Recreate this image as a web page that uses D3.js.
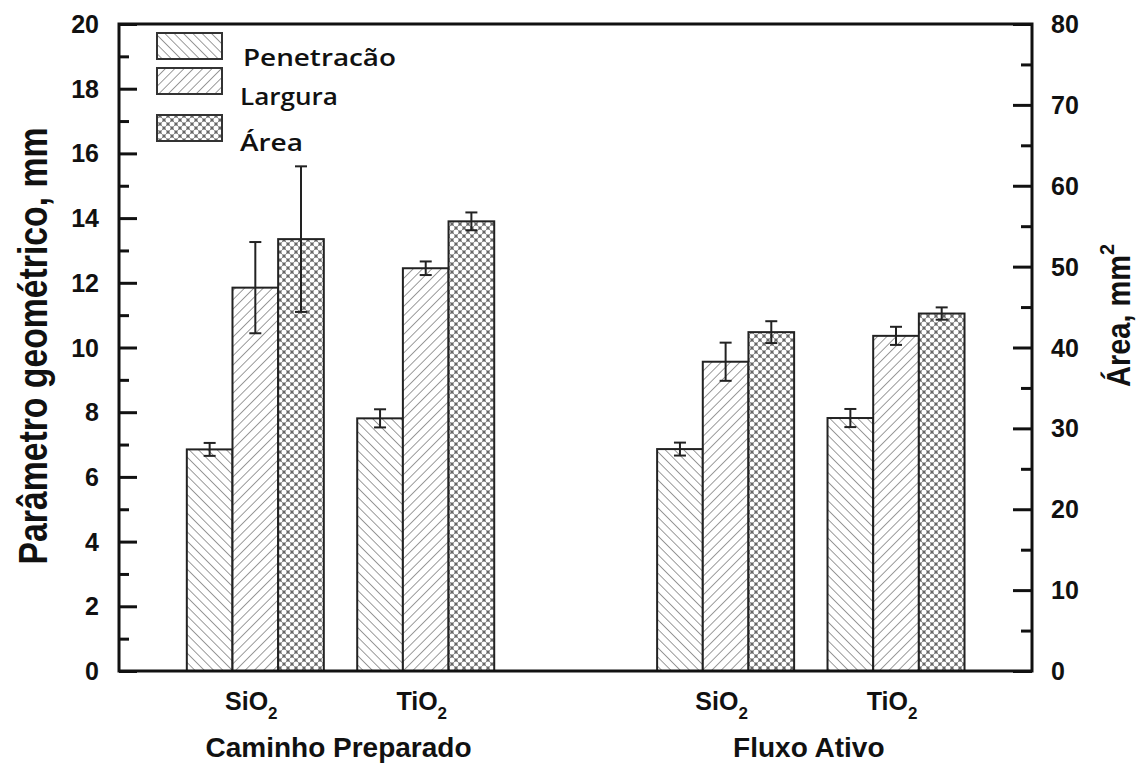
<!DOCTYPE html>
<html>
<head>
<meta charset="utf-8">
<script src="https://cdn.jsdelivr.net/npm/d3@7/dist/d3.min.js"></script>
<style>
  body { margin: 0; background: #fff; }
  svg { display: block; }
  .tick-label { font-family: "Liberation Sans", Arial, sans-serif; font-weight: bold; font-size: 25px; fill: #111; }
  .axis-title { font-family: "Liberation Sans", Arial, sans-serif; font-weight: bold; fill: #111; }
  .legend-label { font-family: "Open Sans", sans-serif; font-weight: 600; font-size: 24px; fill: #111; }
</style>
</head>
<body>
<svg id="chart" width="1138" height="765"></svg>
<script>
// ---------------------------------------------------------------------------
// Data
// ---------------------------------------------------------------------------
const categories = ["Caminho Preparado", "Fluxo Ativo"];
const oxides = ["SiO", "TiO", "SiO", "TiO"];
const groupPos = [0.8, 1.8, 3.56, 4.56];
const groupCategory = [0, 0, 1, 1];

const series = ["Penetracão", "Largura", "Área"];
const penetracao = [6.85, 7.81, 6.86, 7.82];
const penetracaoErr = [0.2, 0.28, 0.2, 0.28];
const largura = [11.85, 12.45, 9.56, 10.36];
const larguraErr = [1.41, 0.21, 0.59, 0.28];
const area = [53.4, 55.6, 41.9, 44.2];        // right axis, mm2
const areaErr = [9.0, 1.1, 1.35, 0.76];

const leftTicks = [0, 2, 4, 6, 8, 10, 12, 14, 16, 18, 20];
const rightTicks = [0, 10, 20, 30, 40, 50, 60, 70, 80];

// ---------------------------------------------------------------------------
// Layout
// ---------------------------------------------------------------------------
const L = 119, R = 1032, T = 24, B = 671;
const svg = d3.select("#chart");

const x = d3.scaleLinear().domain([0, 5.358]).range([L, R]);
const yL = d3.scaleLinear().domain([0, 20]).range([B, T]);
const yR = d3.scaleLinear().domain([0, 80]).range([B, T]);
const inner = d3.scaleBand().domain(series).range([-0.402, 0.402]);

// ---------------------------------------------------------------------------
// Patterns
// ---------------------------------------------------------------------------
const defs = svg.append("defs");

function hatch(id, angle) {
  const p = defs.append("pattern")
    .attr("id", id)
    .attr("patternUnits", "userSpaceOnUse")
    .attr("width", 6.6).attr("height", 6.6)
    .attr("patternTransform", `rotate(${angle})`);
  p.append("rect").attr("width", 6.6).attr("height", 6.6).attr("fill", "#fff");
  p.append("line").attr("x1", 0).attr("y1", 0).attr("x2", 0).attr("y2", 6.6)
    .attr("stroke", "#666").attr("stroke-width", 1.3);
}
hatch("pat-pen", -45);
hatch("pat-lar", 45);

const dots = defs.append("pattern")
  .attr("id", "pat-area")
  .attr("patternUnits", "userSpaceOnUse")
  .attr("width", 8).attr("height", 8);
dots.append("rect").attr("width", 8).attr("height", 8).attr("fill", "#666");
[[0, 0], [8, 0], [0, 8], [8, 8], [4, 4]].forEach(([cx, cy]) => {
  dots.append("circle").attr("cx", cx).attr("cy", cy).attr("r", 2.55).attr("fill", "#fff");
});

const fills = { "Penetracão": "url(#pat-pen)", "Largura": "url(#pat-lar)", "Área": "url(#pat-area)" };

// ---------------------------------------------------------------------------
// Bars
// ---------------------------------------------------------------------------
const rows = [];
groupPos.forEach((p, i) => {
  rows.push({ key: "Penetracão", pos: p, v: penetracao[i], e: penetracaoErr[i], y: yL });
  rows.push({ key: "Largura", pos: p, v: largura[i], e: larguraErr[i], y: yL });
  rows.push({ key: "Área", pos: p, v: area[i], e: areaErr[i], y: yR });
});

const bw = x(inner.bandwidth()) - x(0);

svg.append("g").selectAll("rect")
  .data(rows)
  .join("rect")
  .attr("x", (d) => x(d.pos + inner(d.key)))
  .attr("y", (d) => d.y(d.v))
  .attr("width", bw)
  .attr("height", (d) => B - d.y(d.v))
  .attr("fill", (d) => fills[d.key])
  .attr("stroke", "#222")
  .attr("stroke-width", 2);

// Error bars
const eg = svg.append("g").attr("stroke", "#222").attr("stroke-width", 2);
rows.forEach((d) => {
  const cx = x(d.pos + inner(d.key)) + bw / 2;
  const y1 = d.y(d.v + d.e), y2 = d.y(d.v - d.e);
  eg.append("line").attr("x1", cx).attr("x2", cx).attr("y1", y1).attr("y2", y2);
  eg.append("line").attr("x1", cx - 6).attr("x2", cx + 6).attr("y1", y1).attr("y2", y1);
  eg.append("line").attr("x1", cx - 6).attr("x2", cx + 6).attr("y1", y2).attr("y2", y2);
});

// ---------------------------------------------------------------------------
// Axes
// ---------------------------------------------------------------------------
const leftAxis = d3.axisRight(yL).tickValues(d3.range(0, 21, 1))
  .tickSize(0).tickFormat("");
const gl = svg.append("g").attr("transform", `translate(${L},0)`).call(leftAxis);
gl.select(".domain").remove();
gl.selectAll(".tick line")
  .attr("x2", (d) => (d % 2 === 0 ? 18 : 10))
  .attr("stroke", "#111").attr("stroke-width", 3);

const rightAxis = d3.axisLeft(yR).tickValues(d3.range(0, 81, 5))
  .tickSize(0).tickFormat("");
const gr = svg.append("g").attr("transform", `translate(${R},0)`).call(rightAxis);
gr.select(".domain").remove();
gr.selectAll(".tick line")
  .attr("x2", (d) => (d % 10 === 0 ? -19 : -11))
  .attr("stroke", "#111").attr("stroke-width", 3);

svg.append("g").selectAll("text")
  .data(leftTicks)
  .join("text")
  .attr("class", "tick-label")
  .attr("x", 99)
  .attr("y", (d) => yL(d))
  .attr("dy", "0.36em")
  .attr("text-anchor", "end")
  .text((d) => d);

svg.append("g").selectAll("text")
  .data(rightTicks)
  .join("text")
  .attr("class", "tick-label")
  .attr("x", 1051)
  .attr("y", (d) => yR(d))
  .attr("dy", "0.36em")
  .text((d) => d);

// Frame
svg.append("rect")
  .attr("x", L).attr("y", T)
  .attr("width", R - L).attr("height", B - T)
  .attr("fill", "none").attr("stroke", "#111").attr("stroke-width", 3);

// X labels
const xl = svg.append("g").selectAll("text")
  .data(groupPos)
  .join("text")
  .attr("class", "axis-title")
  .attr("font-size", 25)
  .attr("x", (d) => x(d) - 4)
  .attr("y", 710)
  .attr("text-anchor", "middle");
xl.append("tspan").text((d, i) => oxides[i]);
xl.append("tspan").attr("font-size", 17).attr("dy", 9).text("2");

svg.append("g").selectAll("text")
  .data(categories)
  .join("text")
  .attr("class", "axis-title")
  .attr("font-size", 28)
  .attr("x", (d, i) => {
    const ps = groupPos.filter((p, j) => groupCategory[j] === i);
    return x(d3.mean(ps)) - 2;
  })
  .attr("y", 757)
  .attr("text-anchor", "middle")
  .text((d) => d);

// Axis titles
svg.append("text")
  .attr("class", "axis-title")
  .attr("font-size", 40)
  .attr("transform", "translate(47,346) rotate(-90)")
  .attr("text-anchor", "middle")
  .attr("textLength", 437)
  .attr("lengthAdjust", "spacingAndGlyphs")
  .text("Parâmetro geométrico, mm");

const rt = svg.append("text")
  .attr("class", "axis-title")
  .attr("font-size", 34)
  .attr("transform", "translate(1130,387) rotate(-90)");
rt.append("tspan").attr("textLength", 132).attr("lengthAdjust", "spacingAndGlyphs").text("Área, mm");
rt.append("tspan").attr("font-size", 20).attr("dy", -16).text("2");

// ---------------------------------------------------------------------------
// Legend
// ---------------------------------------------------------------------------
const legendBoxes = [33, 68, 115];
const legendBase = [66, 105, 151];
const legendX = [243, 240, 240];
const legendLen = [153, 98, 63];
const lg = svg.append("g");
series.forEach((s, i) => {
  lg.append("rect")
    .attr("x", 157).attr("y", legendBoxes[i])
    .attr("width", 65).attr("height", 26)
    .attr("fill", fills[s])
    .attr("stroke", "#333").attr("stroke-width", 2);
  lg.append("text")
    .attr("class", "legend-label")
    .attr("x", legendX[i]).attr("y", legendBase[i])
    .attr("textLength", legendLen[i])
    .attr("lengthAdjust", "spacingAndGlyphs")
    .text(s);
});
</script>
</body>
</html>
